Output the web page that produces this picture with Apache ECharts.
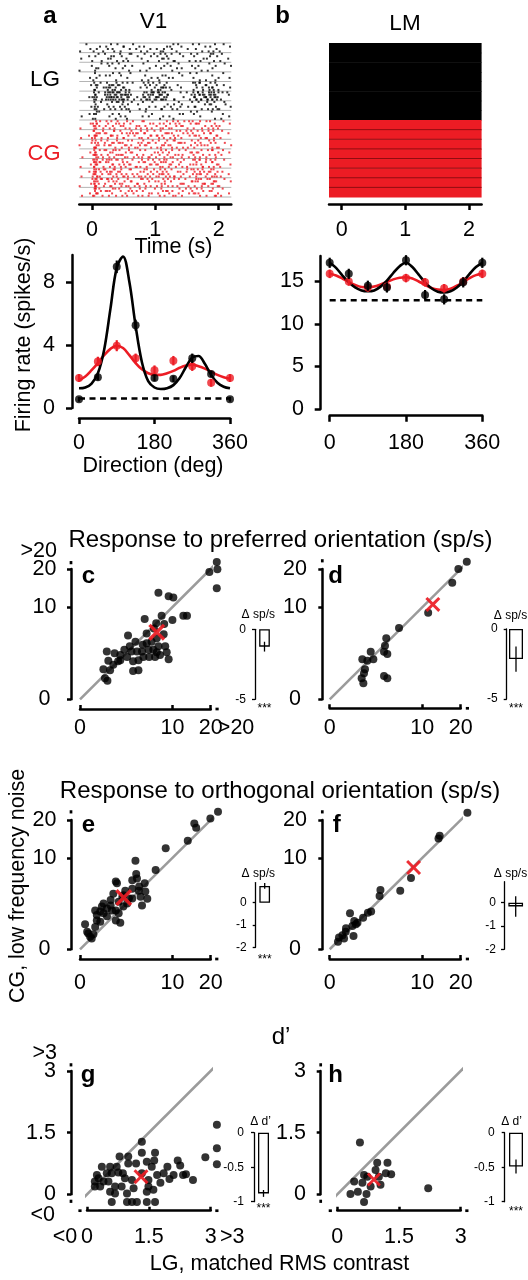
<!DOCTYPE html>
<html>
<head>
<meta charset="utf-8">
<title>LG vs CG responses</title>
<script src="https://cdn.jsdelivr.net/npm/echarts@6/dist/echarts.min.js"></script>
<style>
html,body{margin:0;padding:0;background:#fff;}
#chart{width:528px;height:1280px;}
</style>
</head>
<body>
<div id="chart"></div>
<script>
// ======================= DATA =======================
// Rasters (panels a, b): spike counts per direction group (rows) and 0.2 s time bin (columns)
const rasterBinStarts = [-0.2, 0, 0.2, 0.4, 0.6, 0.8, 1.0, 1.2, 1.4, 1.6, 1.8, 2.0];
const rasterBinWidth = 0.2;
const rasterTimeRange = [-0.2, 2.2];
const rasterTimeTicks = [0, 1, 2];
const rasterGroupEdges = [0,1,2,3,4,5,6,7,8,9,10,11,12,13,14,15,16];
const trialsPerGroup = 4;
const v1LGCounts = [
  [3,4,5,5,4,3,5,5,3,4,5,3],
  [2,4,6,6,3,4,7,5,3,5,6,3],
  [2,3,4,4,2,3,4,4,2,3,4,2],
  [1,3,4,3,2,3,4,3,2,3,4,2],
  [1,4,12,9,2,8,10,3,2,9,10,2],
  [1,5,22,18,4,16,18,4,4,17,18,4],
  [1,4,7,9,3,4,5,6,3,5,8,4],
  [2,3,3,4,2,3,2,3,2,3,2,3]
];
const v1CGCounts = [
  [2,7,8,8,7,6,7,8,7,7,8,3],
  [2,8,9,8,8,7,8,8,7,8,8,3],
  [2,7,8,8,7,7,8,8,6,7,7,3],
  [2,8,9,8,7,6,8,7,6,7,8,3],
  [2,9,10,9,7,8,10,7,6,10,9,3],
  [2,10,11,9,7,9,11,7,7,11,10,3],
  [2,9,10,8,7,7,9,7,6,10,9,3],
  [2,7,8,6,7,6,7,6,6,7,7,3]
];
const onsetWindow = [0.03, 0.08];
const v1LGOnset = [0,0,1,1,4,5,4,3];
const v1CGOnset = [4,5,5,5,6,6,6,5];
const lmLGDensity = [1,1,1,1,1,1,1,1];
const lmCGDensity = [1,1,1,1,1,1,1,1];

// Tuning curves (panels a, b)
const directions = [0,45,90,135,180,225,270,315,360];
const directionTicks = [0,180,360];
const v1LGRate = [0.55,1.95,8.95,5.25,1.9,1.85,3.15,2.15,0.55];
const v1LGSem  = [0.15,0.2,0.4,0.35,0.2,0.2,0.3,0.2,0.15];
const v1CGRate = [1.9,2.95,3.95,3.15,2.4,3.0,2.65,1.6,1.9];
const v1CGSem  = [0.25,0.3,0.35,0.3,0.3,0.3,0.3,0.25,0.25];
const fitDirections = [0,15,30,45,60,75,90,105,120,135,150,165,180,195,210,225,240,255,270,285,300,315,330,345,360];
const v1LGFit = [1.25,1.3,1.55,2.2,3.7,6.3,8.9,9.6,8.0,5.2,2.9,1.7,1.3,1.2,1.25,1.45,1.9,2.6,3.2,3.3,2.8,2.1,1.6,1.35,1.25];
const v1CGFit = [1.75,2.0,2.4,2.85,3.35,3.75,3.95,3.8,3.35,2.85,2.45,2.2,2.1,2.1,2.2,2.35,2.55,2.7,2.75,2.65,2.5,2.3,2.1,1.95,1.85];
const v1Spontaneous = 0.6;
const v1RateTicks = [0,4,8];
const v1RateMax = 9.7;
const lmLGRate = [17.2,15.9,14.5,14.3,17.5,13.4,12.9,14.9,17.2];
const lmLGSem  = [0.6,0.6,0.6,0.6,0.6,0.6,0.6,0.6,0.6];
const lmCGRate = [15.9,15.0,14.3,14.4,15.4,14.9,14.2,15.0,15.9];
const lmCGSem  = [0.5,0.5,0.5,0.5,0.5,0.5,0.5,0.5,0.5];
const lmLGFit = [17.2,16.6,15.7,14.9,14.3,13.95,13.85,13.95,14.4,15.1,16.0,16.8,17.2,16.7,15.8,14.9,14.2,13.8,13.7,13.85,14.3,15.0,15.9,16.7,17.2];
const lmCGFit = [15.9,15.7,15.35,14.95,14.6,14.35,14.3,14.4,14.65,14.95,15.25,15.45,15.5,15.35,15.0,14.6,14.25,14.05,14.0,14.15,14.5,14.95,15.4,15.75,15.9];
const lmSpontaneous = 12.8;
const lmRateTicks = [0,5,10,15];
const lmRateMax = 18;

// Scatter panels: [LG, CG] per neuron
const spsTicks = [0,10,20];
const dprimeTicks = [0,1.5,3];
const panelC = [[21.9,22.2],[22.1,19.9],[19.6,19.1],[21.9,14.5],[7.2,13.4],[9.2,12.5],[10.2,12.2],[4.9,7.6],[7.8,8.2],[10.0,7.4],[12.5,8.2],[13.4,8.2],[6.8,6.8],[8.3,6.7],[6.4,5.9],[5.2,5.1],[8.2,5.0],[2.7,4.8],[6.9,4.4],[6.0,3.9],[5.2,3.7],[3.6,3.9],[4.6,3.5],[0.84,2.7],[1.4,2.5],[1.9,2.3],[2.3,2.9],[2.9,3.3],[3.1,2.7],[3.8,2.7],[4.5,2.7],[5.5,2.9],[6.3,2.9],[7.2,3.3],[8.5,3.3],[8.8,2.6],[9.2,1.9],[7.5,2.3],[6.6,2.1],[5.6,2.1],[4.7,2.1],[4.0,1.8],[3.3,1.7],[2.6,2.1],[1.7,1.7],[1.3,1.4],[0.94,1.75],[1.06,1.0],[0.64,1.06],[0.73,0.52],[0.88,0.41],[3.3,0.94],[4.0,1.0],[6.9,2.6],[1.9,1.8]];
const panelD = [[21.9,22.3],[19.3,20.0],[17.5,16.0],[11.3,8.8],[5.6,6.0],[3.73,4.38],[3.56,3.38],[3.44,2.67],[3.87,2.42],[1.96,2.67],[2.22,1.88],[1.65,1.75],[1.24,1.88],[1.45,1.06],[1.37,0.8],[1.19,0.52],[1.32,0.3],[3.44,0.64],[3.87,0.52]];
const panelE = [[22.3,22.6],[19.9,20.5],[15.3,18.9],[15.8,17.7],[13.6,14.1],[8.6,12.2],[6.7,7.5],[3.6,9.4],[3.7,6.8],[3.8,6.0],[4.9,5.2],[1.5,5.5],[1.6,5.2],[2.4,4.1],[3.2,4.4],[4.05,4.1],[4.5,2.3],[1.9,0.85],[1.3,3.7],[1.1,2.9],[0.65,2.5],[0.56,2.2],[0.85,2.0],[0.48,1.7],[0.33,1.4],[0.27,1.8],[0.03,0.75],[0.06,0.37],[0.12,0.19],[0.16,0.14],[0.21,0.27],[0.08,0.3],[0.48,0.9],[0.85,1.3],[1.5,1.8],[1.75,1.55],[2.2,2.2],[2.8,3.1],[3.2,3.1],[2.1,3.3],[1.75,2.7],[1.2,1.8],[0.65,1.55],[0.33,1.0],[0.27,0.6],[2.2,3.5],[3.2,5.7],[4.1,4.7],[5.0,4.0],[5.3,3.05],[4.3,3.3],[2.6,2.5],[1.1,2.3],[1.5,1.0]];
const panelF = [[22.1,22.3],[13.8,14.7],[14.1,15.4],[7.7,6.1],[5.8,4.1],[3.0,4.2],[2.9,3.4],[2.0,1.7],[1.7,1.6],[1.3,1.2],[0.48,1.55],[0.7,0.96],[0.9,0.85],[0.8,0.75],[0.6,0.65],[0.3,0.37],[0.19,0.24],[0.1,0.17],[0.08,0.07],[0.24,0.14],[0.66,0.21],[0.31,0.53]];
const panelG = [[3.15,1.69],[3.15,1.12],[3.15,0.73],[2.87,0.9],[2.57,0.35],[2.4,0.49],[2.33,0.47],[2.26,0.7],[2.2,0.82],[2.1,0.47],[2.0,0.37],[1.95,0.67],[1.86,0.51],[1.7,0.47],[1.65,1.01],[1.63,0.82],[1.57,0.67],[1.45,0.79],[1.33,1.28],[1.33,1.01],[1.19,0.75],[1.0,0.75],[1.0,0.92],[0.79,0.92],[0.56,0.67],[0.36,0.67],[0.48,0.51],[0.6,0.51],[0.76,0.53],[0.92,0.39],[1.09,0.35],[1.33,0.51],[1.49,0.35],[1.49,0.19],[1.61,0.11],[1.45,0.06],[1.13,0.15],[0.97,0.02],[0.84,0.19],[0.68,0.19],[0.52,0.31],[0.4,0.31],[0.28,0.39],[0.19,0.31],[0.19,0.19],[0.32,0.19],[0.56,0.06],[0.68,0.02],[0.6,-0.19],[0.97,-0.19],[1.09,-0.19],[1.21,-0.19],[1.45,-0.19],[1.65,-0.19],[0.24,0.47],[0.72,0.67],[0.87,0.51],[1.78,0.28]];
const panelH = [[0.55,1.26],[0.41,0.31],[0.32,0.01],[0.5,0.06],[0.65,-0.19],[0.71,0.01],[0.61,0.28],[0.65,0.47],[0.81,0.19],[0.93,0.59],[0.97,0.77],[1.05,0.23],[1.18,0.51],[1.22,0.77],[1.31,0.49],[2.21,0.15],[0.73,0.43],[1.01,0.43]];
const meanC = [6.9,5.3];
const meanD = [12.4,10.6];
const meanE = [2.24,3.2];
const meanF = [8.2,8.0];
const meanG = [1.31,0.43];
const meanH = [0.89,0.36];
// Inset bars: [mean difference, s.e.m.]
const deltaC = [-1.24,0.35];
const deltaD = [-2.15,0.9];
const deltaE = [0.75,0.13];
const deltaF = [-0.16,0.44];
const deltaG = [-0.88,0.05];
const deltaH = [-0.49,0.1];
const deltaSpsTicks = [0,-5];
const deltaOrthoTicks = [0,-1,-2];
const deltaDprimeTicks = [0,-0.5,-1];

// ======================= STYLE / LAYOUT =======================
const FONT = "'Liberation Sans', Arial, Helvetica, sans-serif";
const BLACK = '#000000';
const RED = '#ec1c24';
const GREY = '#9b9b9b';
const XMARK = 'path://M0,1.4L1.4,0L5,3.6L8.6,0L10,1.4L6.4,5L10,8.6L8.6,10L5,6.4L1.4,10L0,8.6L3.6,5Z';
const TICK_FS = 21.5;

const grids = [], xAxes = [], yAxes = [], series = [], graphics = [];

function addGrid(rect, xa, ya) {
  const i = grids.length;
  grids.push({left: rect[0], top: rect[1], width: rect[2], height: rect[3], containLabel: false, outerBoundsMode: 'none'});
  xAxes.push(Object.assign({gridIndex: i}, xa));
  yAxes.push(Object.assign({gridIndex: i}, ya));
  return i;
}
function valAxis(o) {
  const hasTicks = !!(o.ticks && o.ticks.length);
  return {
    type: 'value', min: o.min, max: o.max, offset: o.offset || 0, inverse: !!o.inverse,
    show: o.show !== false,
    axisLine: {show: true, onZero: false, lineStyle: {color: BLACK, width: o.lw || 2.5}},
    axisTick: {show: hasTicks, inside: !!o.tickInside, length: o.tickLen || 5,
      customValues: o.ticks || [], lineStyle: {color: BLACK, width: o.lw || 2.5}},
    axisLabel: {show: hasTicks && o.labels !== false, customValues: o.ticks || [], formatter: o.fmt || (v => String(v)),
      fontSize: o.fs || TICK_FS, fontFamily: FONT, color: BLACK, margin: o.margin || 8, align: o.align, hideOverlap: false},
    splitLine: {show: false}
  };
}
function txt(text, x, y, o) {
  o = o || {};
  const al = o.align || 'center', va = o.va || 'middle';
  graphics.push({type: 'text', x: x, y: y, rotation: o.rotation || 0, silent: true, z: 100,
    style: {text: text, fill: o.color || BLACK, fontSize: o.size || TICK_FS, fontFamily: FONT,
      fontWeight: o.weight || 'normal', align: al, verticalAlign: va, textAlign: al, textVerticalAlign: va}});
}
// Halton low-discrepancy sequence: spreads the counted spikes of a cell evenly inside it
function halton(i, base) {
  let f = 1, r = 0;
  while (i > 0) { f /= base; r += f * (i % base); i = Math.floor(i / base); }
  return r;
}

// ----- rasters -----
function rasterPoints(counts, onset, firstGroup) {
  const pts = [];
  counts.forEach((row, i) => {
    const g = firstGroup + i;
    row.forEach((n, b) => {
      const start = 7 + (g * 12 + b) * 61;
      for (let k = 0; k < n; k++) {
        const u = halton(start + k, 2);
        const w = Math.floor(halton(start + k, 3) * trialsPerGroup);
        pts.push([rasterBinStarts[b] + rasterBinWidth * u, g + (w + 0.5) / trialsPerGroup]);
      }
    });
    const s2 = 3 + g * 29;
    for (let k = 0; k < onset[i]; k++) {
      const u = halton(s2 + k, 2);
      const w = Math.floor(halton(s2 + k, 3) * trialsPerGroup);
      pts.push([onsetWindow[0] + (onsetWindow[1] - onsetWindow[0]) * u, g + (w + 0.5) / trialsPerGroup]);
    }
  });
  return pts;
}
function rasterGrid(rect) {
  return addGrid(rect,
    valAxis({min: rasterTimeRange[0], max: rasterTimeRange[1], offset: 7, ticks: rasterTimeTicks, tickLen: 6, margin: 15}),
    {type: 'value', min: 0, max: 16, inverse: true, show: false});
}
function edgeLines(gi, color, z, edges) {
  series.push({type: 'custom', xAxisIndex: gi, yAxisIndex: gi, silent: true, z: z, clip: false,
    data: edges.map(e => [e]),
    renderItem: (p, api) => {
      const a = api.coord([rasterTimeRange[0], api.value(0)]);
      const b = api.coord([rasterTimeRange[1], api.value(0)]);
      return {type: 'line', shape: {x1: a[0], y1: a[1], x2: b[0], y2: b[1]}, style: {stroke: color, lineWidth: 1}};
    }});
}
const rA = rasterGrid([79.3, 43, 152, 154]);
edgeLines(rA, '#b4b4b4', 1, rasterGroupEdges);
series.push({type: 'scatter', xAxisIndex: rA, yAxisIndex: rA, symbol: 'rect', symbolSize: 2, silent: true, z: 2,
  itemStyle: {color: BLACK}, data: rasterPoints(v1LGCounts, v1LGOnset, 0)});
series.push({type: 'scatter', xAxisIndex: rA, yAxisIndex: rA, symbol: 'rect', symbolSize: 2, silent: true, z: 2,
  itemStyle: {color: RED}, data: rasterPoints(v1CGCounts, v1CGOnset, 8)});

const rB = rasterGrid([329, 43, 152.6, 154]);
function lmBlocks(gi, density, firstGroup, color) {
  series.push({type: 'custom', xAxisIndex: gi, yAxisIndex: gi, silent: true, z: 1,
    data: density.map((d, i) => [firstGroup + i, d]),
    renderItem: (p, api) => {
      const g = api.value(0);
      const a = api.coord([rasterTimeRange[0], g]);
      const b = api.coord([rasterTimeRange[1], g + 1]);
      return {type: 'rect', shape: {x: a[0], y: a[1], width: b[0] - a[0], height: b[1] - a[1] + 0.5},
        style: {fill: color, opacity: api.value(1)}};
    }});
}
lmBlocks(rB, lmLGDensity, 0, BLACK);
lmBlocks(rB, lmCGDensity, 8, RED);
edgeLines(rB, 'rgba(70,0,0,0.55)', 3, rasterGroupEdges.slice(9, 16));

// ----- tuning curves -----
function errorBars(gi, xs, ys, es, color, width, z) {
  series.push({type: 'custom', xAxisIndex: gi, yAxisIndex: gi, silent: true, z: z || 4, clip: false,
    data: xs.map((x, i) => [x, ys[i], es[i]]),
    renderItem: (p, api) => {
      const a = api.coord([api.value(0), api.value(1) - api.value(2)]);
      const b = api.coord([api.value(0), api.value(1) + api.value(2)]);
      return {type: 'line', shape: {x1: a[0], y1: a[1], x2: b[0], y2: b[1]}, style: {stroke: color, lineWidth: width}};
    }});
}
function tuningPanel(c) {
  const gi = addGrid(c.rect,
    valAxis({min: 0, max: 360, offset: c.xOff, ticks: directionTicks, tickLen: 6, margin: c.xMargin}),
    valAxis({min: 0, max: c.yMax, offset: c.yOff, ticks: c.yTicks, tickLen: 6, margin: c.yMargin}));
  series.push({type: 'line', xAxisIndex: gi, yAxisIndex: gi, silent: true, z: 2, symbol: 'none',
    data: [[0, c.spont], [360, c.spont]], lineStyle: {color: BLACK, width: 2.5, type: [6, 4.5]}});
  series.push({type: 'line', xAxisIndex: gi, yAxisIndex: gi, silent: true, z: 2, symbol: 'none', smooth: 0.35,
    data: fitDirections.map((d, i) => [d, c.cgFit[i]]), lineStyle: {color: RED, width: 2.6}});
  series.push({type: 'line', xAxisIndex: gi, yAxisIndex: gi, silent: true, z: 3, symbol: 'none', smooth: 0.35,
    data: fitDirections.map((d, i) => [d, c.lgFit[i]]), lineStyle: {color: BLACK, width: 2.6}});
  errorBars(gi, directions, c.cgRate, c.cgSem, RED, 2.2, 4);
  series.push({type: 'scatter', xAxisIndex: gi, yAxisIndex: gi, silent: true, z: 4, symbolSize: 8, clip: false,
    itemStyle: {color: RED}, data: directions.map((d, i) => [d, c.cgRate[i]])});
  errorBars(gi, directions, c.lgRate, c.lgSem, BLACK, 2.2, 5);
  series.push({type: 'scatter', xAxisIndex: gi, yAxisIndex: gi, silent: true, z: 5, symbolSize: 8, clip: false,
    itemStyle: {color: BLACK}, data: directions.map((d, i) => [d, c.lgRate[i]])});
}
tuningPanel({rect: [79, 255, 151, 153], yMax: v1RateMax, yTicks: v1RateTicks, xOff: 10, yOff: 7, xMargin: 14.5, yMargin: 17,
  lgRate: v1LGRate, lgSem: v1LGSem, cgRate: v1CGRate, cgSem: v1CGSem, lgFit: v1LGFit, cgFit: v1CGFit, spont: v1Spontaneous});
tuningPanel({rect: [329.7, 256, 152.6, 153], yMax: lmRateMax, yTicks: lmRateTicks, xOff: 6.7, yOff: 9, xMargin: 16, yMargin: 16.7,
  lgRate: lmLGRate, lgSem: lmLGSem, cgRate: lmCGRate, cgSem: lmCGSem, lgFit: lmLGFit, cgFit: lmCGFit, spont: lmSpontaneous});

// ----- scatter panels -----
const sqrtT = v => Math.sqrt(Math.max(v, 0));
const linT = v => v;
function scatterPanel(c) {
  const tf = c.tf;
  const ticks = c.ticks.map(tf);
  const gi = addGrid(c.rect,
    valAxis({min: 0, max: tf(c.axisMax), offset: c.xOff, ticks: ticks, labels: false, tickInside: true, tickLen: 4}),
    valAxis({min: 0, max: tf(c.axisMax), offset: c.yOff, ticks: ticks, labels: false, tickLen: 4}));
  series.push({type: 'line', xAxisIndex: gi, yAxisIndex: gi, silent: true, z: 2, symbol: 'none', clip: false,
    data: [[tf(c.diag[0]), tf(c.diag[0])], [tf(c.diag[1]), tf(c.diag[1])]], lineStyle: {color: GREY, width: 2.6}});
  series.push({type: 'scatter', xAxisIndex: gi, yAxisIndex: gi, silent: true, z: 3, symbolSize: 8, clip: false,
    itemStyle: {color: BLACK}, data: c.points.map(p => [tf(p[0]), tf(p[1])])});
  series.push({type: 'scatter', xAxisIndex: gi, yAxisIndex: gi, silent: true, z: 4, symbol: XMARK, symbolSize: c.xSize, clip: false,
    itemStyle: {color: RED, opacity: 0.92}, data: [[tf(c.mean[0]), tf(c.mean[1])]]});
  // tick labels + out-of-range markers, positioned through the axis scales
  const marks = [];
  c.ticks.forEach(v => marks.push({axis: 'x', v: v, label: String(v), dx: 0, dy: c.xLabelDy, noMarker: true}));
  c.ticks.forEach(v => marks.push({axis: 'y', v: v, label: String(v), dx: c.yLabelDx, dy: 0, noMarker: true, align: c.yAlign}));
  c.marks.forEach(m => marks.push(m));
  series.push({type: 'custom', xAxisIndex: gi, yAxisIndex: gi, silent: true, z: 6, clip: false, data: [[0]],
    renderItem: (p, api) => {
      const ch = [];
      marks.forEach(m => {
        let x, y;
        if (m.axis === 'x') {
          const q = api.coord([tf(m.v), 0]);
          x = q[0]; y = q[1] + c.xOff;
          if (!m.noMarker) ch.push({type: 'rect', shape: {x: x - 1.6, y: y - 1.35, width: 3.2, height: 2.7}, style: {fill: BLACK}});
        } else {
          const q = api.coord([0, tf(m.v)]);
          x = q[0] - c.yOff; y = q[1];
          if (!m.noMarker) ch.push({type: 'rect', shape: {x: x - 1.35, y: y - 1.6, width: 2.7, height: 3.2}, style: {fill: BLACK}});
        }
        if (m.label) ch.push({type: 'text', x: x + m.dx, y: y + m.dy,
          style: {text: m.label, fontSize: TICK_FS, fontFamily: FONT, fill: BLACK,
            align: m.align || (m.axis === 'x' ? 'center' : 'right'), verticalAlign: 'middle'}});
      });
      return {type: 'group', children: ch};
    }});
  return gi;
}
scatterPanel({rect: [80, 569, 130.7, 130.3], tf: sqrtT, axisMax: 20, ticks: spsTicks, xOff: 9.7, yOff: 9,
  xLabelDy: 19.3, yLabelDx: -26.5, yAlign: 'center',
  points: panelC, mean: meanC, diag: [0, 21.9], xSize: 17,
  marks: [{axis: 'x', v: 22, label: '>20', dx: 19, dy: 19.3}, {axis: 'y', v: 22, label: '>20', dx: -14, dy: -11.7}]});
scatterPanel({rect: [329.7, 569, 131, 130.3], tf: sqrtT, axisMax: 20, ticks: spsTicks, xOff: 9, yOff: 7.4,
  xLabelDy: 20, yLabelDx: -27.3, yAlign: 'center',
  points: panelD, mean: meanD, diag: [0, 21.9], xSize: 15,
  marks: [{axis: 'x', v: 22.1}, {axis: 'y', v: 22.6}]});
scatterPanel({rect: [80, 820, 130.7, 129.3], tf: sqrtT, axisMax: 20, ticks: spsTicks, xOff: 9.7, yOff: 9,
  xLabelDy: 24.3, yLabelDx: -26.5, yAlign: 'center',
  points: panelE, mean: meanE, diag: [0, 22.3], xSize: 17,
  marks: [{axis: 'x', v: 21.9}, {axis: 'y', v: 22.6}]});
scatterPanel({rect: [329.7, 820, 131, 129.3], tf: sqrtT, axisMax: 20, ticks: spsTicks, xOff: 9.7, yOff: 7.4,
  xLabelDy: 24.3, yLabelDx: -27.3, yAlign: 'center',
  points: panelF, mean: meanF, diag: [0, 22.0], xSize: 15,
  marks: [{axis: 'x', v: 22.1}, {axis: 'y', v: 22.6}]});
scatterPanel({rect: [87, 1071, 123.7, 123.3], tf: linT, axisMax: 3, ticks: dprimeTicks, xOff: 16.4, yOff: 16,
  xLabelDy: 26.3, yLabelDx: -15, yAlign: 'right',
  points: panelG, mean: meanG, diag: [-0.17, 3.16], xSize: 15,
  marks: [{axis: 'x', v: -0.17, label: '<0', dx: -15, dy: 26.3}, {axis: 'x', v: 3.15, label: '>3', dx: 15.3, dy: 26.3},
          {axis: 'y', v: 3.15, label: '>3', dx: -14, dy: -11.7}, {axis: 'y', v: -0.17, label: '<0', dx: -16, dy: 13.3}]});
scatterPanel({rect: [337.3, 1071, 123.4, 123.3], tf: linT, axisMax: 3, ticks: dprimeTicks, xOff: 16.4, yOff: 16.6,
  xLabelDy: 26, yLabelDx: -14.7, yAlign: 'right',
  points: panelH, mean: meanH, diag: [-0.17, 3.16], xSize: 14,
  marks: [{axis: 'x', v: -0.17}, {axis: 'x', v: 3.15}, {axis: 'y', v: 3.15}, {axis: 'y', v: -0.17}]});

// ----- inset bars -----
function insetPanel(c) {
  const gi = addGrid(c.rect,
    {type: 'category', data: [c.stars], axisLine: {show: false}, axisTick: {show: false}, splitLine: {show: false},
      axisLabel: {fontSize: 12, fontFamily: FONT, color: BLACK, margin: c.starMargin, interval: 0}},
    valAxis({min: c.min, max: c.max, offset: c.yOff, ticks: c.ticks, tickLen: 3, lw: 1.3, fs: 12, margin: c.labelMargin}));
  series.push({type: 'bar', xAxisIndex: gi, yAxisIndex: gi, silent: true, z: 2, data: [c.delta[0]], barWidth: c.barWidth,
    itemStyle: {color: '#ffffff', borderColor: BLACK, borderWidth: 1.3}});
  errorBars(gi, [0], [c.delta[0]], [c.delta[1]], BLACK, 1.3, 3);
}
insetPanel({rect: [258, 629.3, 13, 70], min: -5, max: 0, ticks: deltaSpsTicks, yOff: 3, barWidth: 10.7, delta: deltaC, stars: '***', starMargin: 3, labelMargin: 9});
insetPanel({rect: [508.5, 629, 15, 70], min: -5, max: 0, ticks: deltaSpsTicks, yOff: 1.8, barWidth: 14, delta: deltaD, stars: '***', starMargin: 4, labelMargin: 9});
insetPanel({rect: [258.7, 882.6, 12, 64.7], min: -2, max: 0.9, ticks: deltaOrthoTicks, yOff: 3, barWidth: 10.7, delta: deltaE, stars: '***', starMargin: 6, labelMargin: 9});
insetPanel({rect: [506.7, 881.7, 18, 67.6], min: -2, max: 0.9, ticks: deltaOrthoTicks, yOff: 2.7, barWidth: 14.7, delta: deltaF, stars: '', starMargin: 4, labelMargin: 8});
insetPanel({rect: [257, 1132.7, 13, 69], min: -1, max: 0, ticks: deltaDprimeTicks, yOff: 3, barWidth: 11, delta: deltaG, stars: '***', starMargin: 1, labelMargin: 10});
insetPanel({rect: [507.5, 1132.7, 17, 69], min: -1, max: 0, ticks: deltaDprimeTicks, yOff: 2.8, barWidth: 14, delta: deltaH, stars: '***', starMargin: 4, labelMargin: 10});

// ----- texts -----
txt('a', 50, 16, {size: 24, weight: 'bold'});
txt('V1', 153.5, 21.7, {size: 22.5});
txt('b', 282.5, 16, {size: 24, weight: 'bold'});
txt('LM', 405, 23.3, {size: 22.5});
txt('LG', 45, 79.3, {size: 22.5});
txt('CG', 44, 154.3, {size: 22, color: RED});
txt('Time (s)', 173.5, 247.5);
txt('Direction (deg)', 153, 466.5);
txt('Firing rate (spikes/s)', 24.5, 335, {rotation: Math.PI / 2});
txt('Response to preferred orientation (sp/s)', 280.5, 540, {size: 24});
txt('Response to orthogonal orientation (sp/s)', 280, 791.7, {size: 24});
txt('d\u2019', 281, 1037.5, {size: 24});
txt('CG, low frequency noise', 18.5, 886, {rotation: Math.PI / 2});
txt('LG, matched RMS contrast', 279.5, 1264);
txt('c', 88.5, 576.2, {size: 24, weight: 'bold'});
txt('d', 335.7, 576.2, {size: 24, weight: 'bold'});
txt('e', 88.5, 825.2, {size: 24, weight: 'bold'});
txt('f', 336.7, 825.2, {size: 24, weight: 'bold'});
txt('g', 88, 1074.9, {size: 24, weight: 'bold'});
txt('h', 335.5, 1074.9, {size: 24, weight: 'bold'});
txt('\u0394 sp/s', 258.3, 615, {size: 12});
txt('\u0394 sp/s', 510.5, 615.7, {size: 12});
txt('\u0394 sp/s', 258.3, 874, {size: 12});
txt('\u0394 sp/s', 510.5, 873.3, {size: 12});
txt('\u0394 d\u2019', 260.5, 1121.7, {size: 12});
txt('\u0394 d\u2019', 511.5, 1121.7, {size: 12});

const chart = echarts.init(document.getElementById('chart'), null, {renderer: 'canvas', width: 528, height: 1280});
chart.setOption({
  animation: false,
  backgroundColor: '#ffffff',
  textStyle: {fontFamily: FONT},
  grid: grids, xAxis: xAxes, yAxis: yAxes, series: series, graphic: graphics
});
</script>
</body>
</html>
